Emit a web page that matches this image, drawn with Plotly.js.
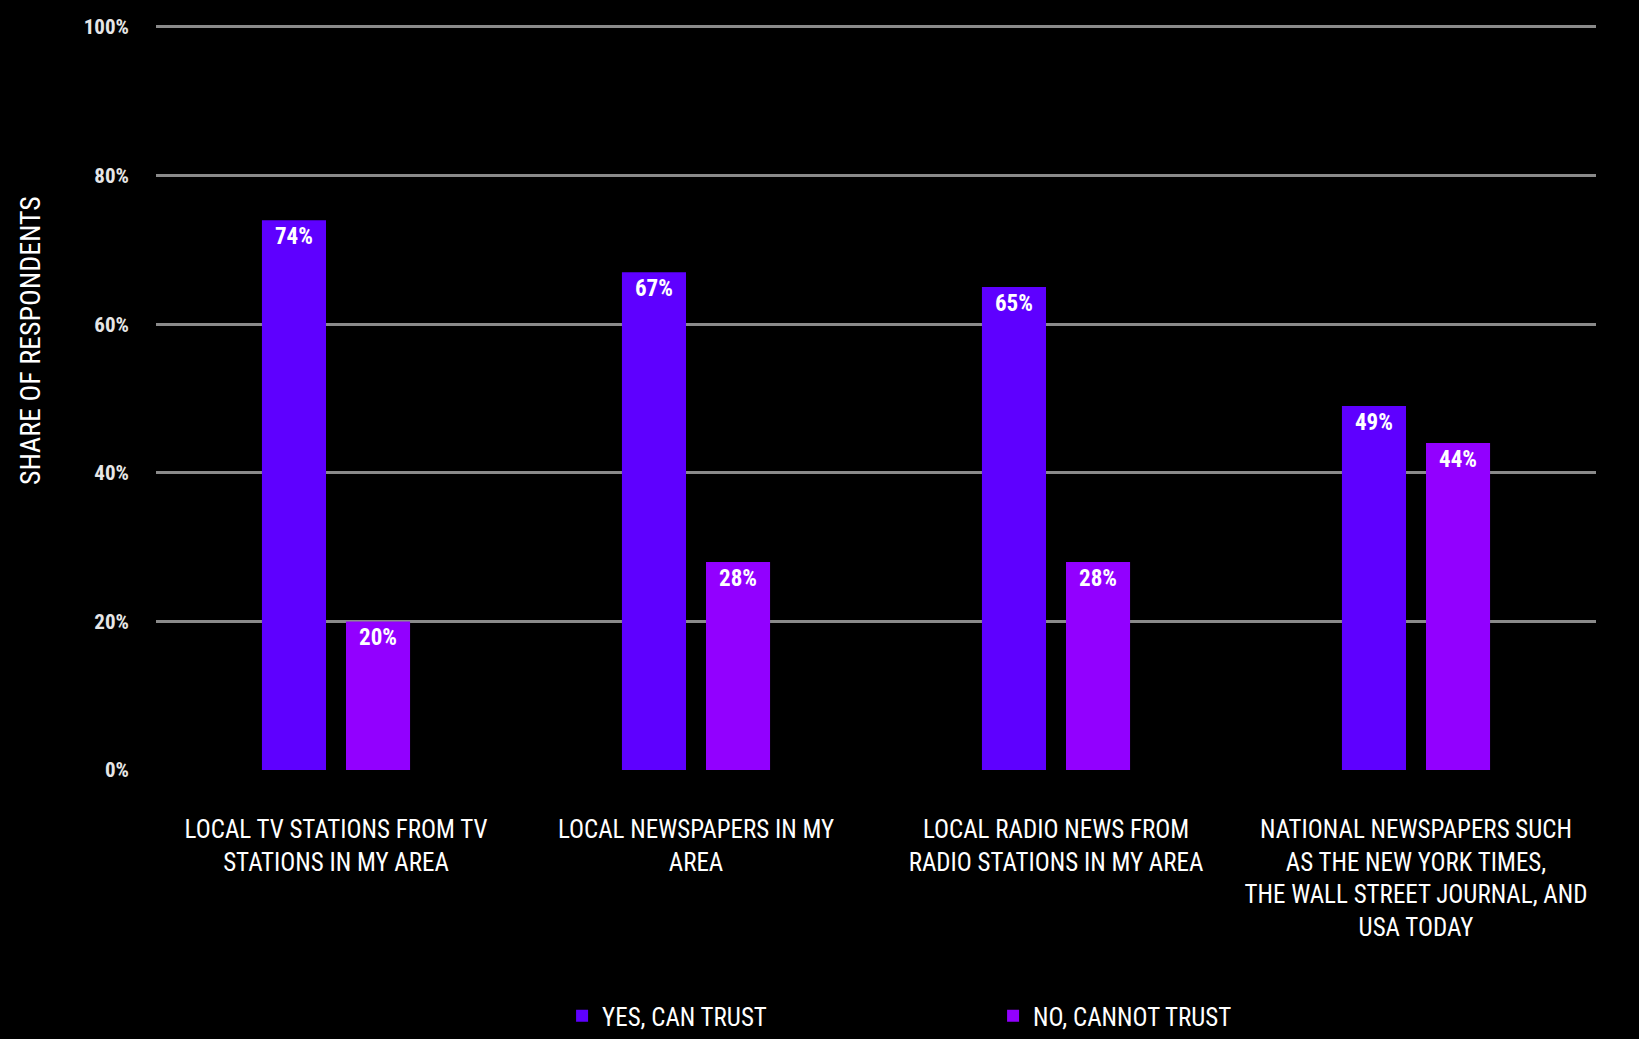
<!DOCTYPE html>
<html>
<head>
<meta charset="utf-8">
<script src="https://cdn.plot.ly/plotly-3.0.1.min.js"></script>
<style>
html,body{margin:0;padding:0;background:#000;}
#chart{width:1639px;height:1039px;}
</style>
</head>
<body>
<div id="chart"></div>
<script>
var categories = [
  "LOCAL TV STATIONS FROM TV<br>STATIONS IN MY AREA",
  "LOCAL NEWSPAPERS IN MY<br>AREA",
  "LOCAL RADIO NEWS FROM<br>RADIO STATIONS IN MY AREA",
  "NATIONAL NEWSPAPERS SUCH<br>AS THE NEW YORK TIMES,<br>THE WALL STREET JOURNAL, AND<br>USA TODAY"
];
var yesValues = [74, 67, 65, 49];
var noValues = [20, 28, 28, 44];
var seriesNames = ["YES, CAN TRUST", "NO, CANNOT TRUST"];
var yTickVals = [0, 20, 40, 60, 80, 100];
var yTickText = ["0%", "20%", "40%", "60%", "80%", "100%"];

var FONT = "'Roboto Condensed', 'DejaVu Sans Condensed', sans-serif";

function pct(arr){ return arr.map(function(v){ return v + "%"; }); }

var traces = [
  {
    type: "bar", name: seriesNames[0], x: categories, y: yesValues,
    text: pct(yesValues), textposition: "inside", insidetextanchor: "end", textangle: 0,
    textfont: {family: FONT, size: 23, color: "#ffffff", weight: "bold"},
    marker: {color: "#5e00ff"}, hoverinfo: "none"
  },
  {
    type: "bar", name: seriesNames[1], x: categories, y: noValues,
    text: pct(noValues), textposition: "inside", insidetextanchor: "end", textangle: 0,
    textfont: {family: FONT, size: 23, color: "#ffffff", weight: "bold"},
    marker: {color: "#9200ff"}, hoverinfo: "none"
  }
];

var layout = {
  width: 1639, height: 1039,
  paper_bgcolor: "#000000", plot_bgcolor: "#000000",
  margin: {l: 156, r: 43, t: 24, b: 269},
  font: {family: FONT, color: "#ffffff"},
  barmode: "group", bargap: 0.533, bargroupgap: 0.238,
  showlegend: true,
  legend: {
    orientation: "h", x: 0.282, xanchor: "left",
    yref: "container", y: -0.006, yanchor: "bottom",
    font: {family: FONT, size: 25, color: "#ffffff"},
    entrywidth: 386, entrywidthmode: "pixels", traceorder: "normal"
  },
  xaxis: {
    tickfont: {family: FONT, size: 25, color: "#ffffff"},
    ticks: "", showgrid: false, zeroline: false, showline: false,
    tickangle: 0, ticklabelstandoff: 42
  },
  yaxis: {
    range: [0, 100.4], tickvals: yTickVals, ticktext: yTickText,
    tickfont: {family: FONT, size: 21, color: "#e6e6e6", weight: "bold"},
    ticks: "", showgrid: true, gridcolor: "#8a8a8a", gridwidth: 3,
    zeroline: false, showline: false, ticklabelstandoff: 26, fixedrange: true
  },
  annotations: [{
    text: "SHARE OF RESPONDENTS", textangle: -90, showarrow: false,
    xref: "paper", yref: "paper", x: -0.0875, y: 0.575, xanchor: "center", yanchor: "middle",
    font: {family: FONT, size: 28, color: "#ffffff"}
  }]
};

Plotly.newPlot("chart", traces, layout, {displayModeBar: false, staticPlot: true});
</script>
</body>
</html>
